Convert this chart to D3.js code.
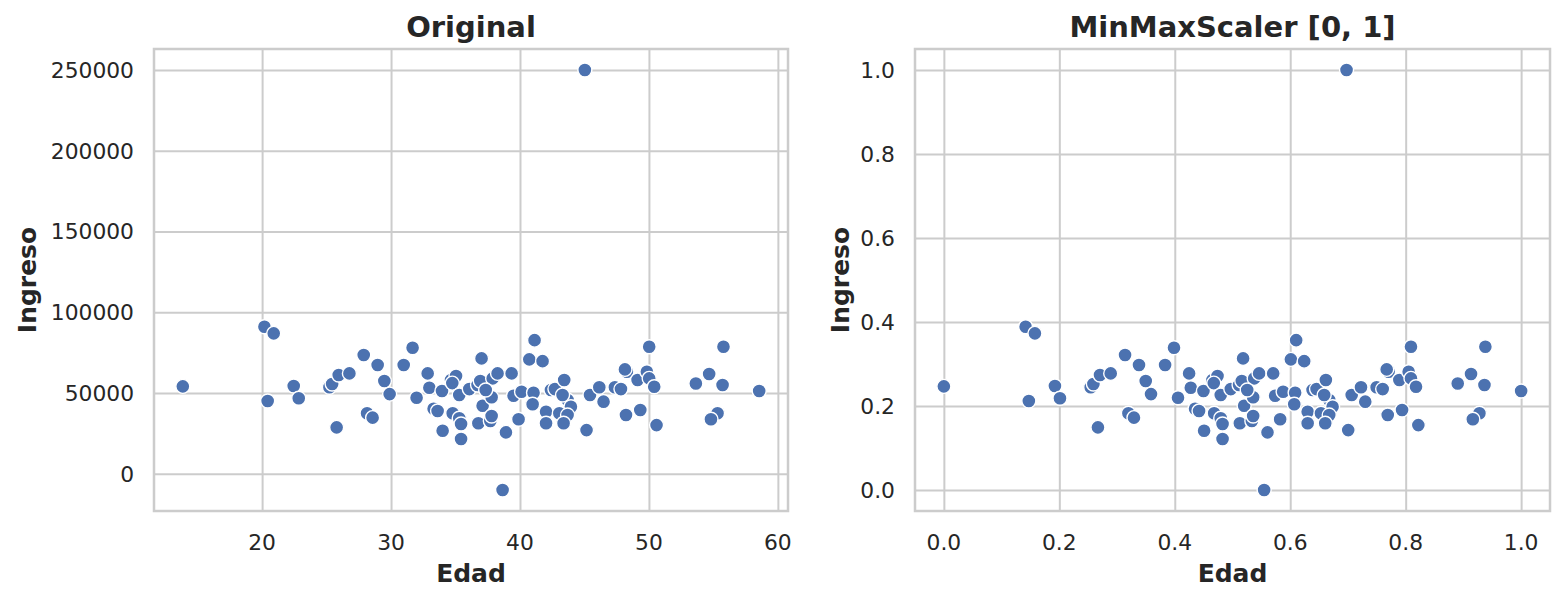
<!DOCTYPE html>
<html>
<head>
<meta charset="utf-8">
<script src="https://cdn.jsdelivr.net/npm/d3@7"></script>
<style>
  body { margin: 0; background: #fff; }
  text { font-family: "DejaVu Sans", sans-serif; fill: #262626; }
</style>
</head>
<body>
<div id="chart"></div>
<script>
const width = 1564;
const height = 601;

const edad = [13.85, 20.18, 20.90, 20.43, 22.45, 22.84, 25.78, 25.22, 25.43, 25.94,
  26.77, 27.88, 28.96, 29.48, 29.89, 28.14, 28.57, 30.98, 31.67, 32.84,
  32.97, 31.98, 33.30, 33.61, 34.00, 33.95, 34.65, 35.04, 34.75, 34.78,
  35.29, 35.43, 35.43, 35.29, 36.07, 36.71, 37.02, 36.92, 37.10, 36.77,
  37.70, 37.80, 37.80, 37.88, 38.26, 39.35, 38.91, 39.50, 40.12, 39.89,
  38.65, 41.13, 40.72, 41.75, 41.05, 40.98, 42.02, 42.02, 42.40, 42.71,
  43.43, 43.69, 43.95, 43.30, 43.05, 43.69, 43.38, 45.16, 45.43, 46.15,
  46.48, 47.36, 47.83, 48.22, 49.33, 48.29, 48.14, 49.12, 49.84, 50.02,
  50.02, 50.41, 50.59, 53.64, 54.67, 55.71, 55.78, 55.32, 54.81, 58.55,
  45.03, 37.34];

const ingreso = [54100, 91000, 86900, 45000, 54300, 46700, 28700, 53500, 55500, 61100,
  62100, 73500, 67300, 57400, 49300, 37400, 34700, 67300, 78000, 62100,
  53200, 47000, 40200, 38800, 26600, 51200, 58000, 60500, 56100, 37400,
  34300, 30800, 21500, 48700, 52400, 54900, 71400, 57400, 42100, 31200,
  32600, 35700, 47300, 59000, 62100, 62100, 25600, 48300, 50700, 33700,
  -10100, 82700, 70800, 69700, 50100, 43000, 38400, 31200, 51800, 52400,
  58000, 45600, 41500, 48700, 37400, 36300, 31200, 27000, 48700, 53500,
  44600, 53500, 52400, 36300, 39400, 63100, 64600, 58000, 63100, 78600,
  59000, 53800, 30100, 55900, 61700, 54900, 78600, 37400, 33700, 51200,
  250000, 51800];

const originalXTicks = [20, 30, 40, 50, 60];
const originalYTicks = [0, 50000, 100000, 150000, 200000, 250000];
const scaledTicks = [0, 0.2, 0.4, 0.6, 0.8, 1.0];

// MinMaxScaler: (v - min) / (max - min)
function minMax(values) {
  const [lo, hi] = d3.extent(values);
  return values.map(v => (v - lo) / (hi - lo));
}

const originalData = edad.map((e, i) => ({ x: e, y: ingreso[i] }));
const edadScaled = minMax(edad);
const ingresoScaled = minMax(ingreso);
const scaledData = edadScaled.map((e, i) => ({ x: e, y: ingresoScaled[i] }));

const svg = d3.select("#chart")
  .append("svg")
  .attr("width", width)
  .attr("height", height)
  .style("display", "block");

// matplotlib style 5% margins
function padded(values) {
  const [lo, hi] = d3.extent(values);
  const m = (hi - lo) * 0.05;
  return [lo - m, hi + m];
}

const plotTop = 49, plotBottom = 511;

function drawPanel(opts) {
  const x = d3.scaleLinear().domain(padded(opts.data.map(d => d.x))).range([opts.left, opts.right]);
  const y = d3.scaleLinear().domain(padded(opts.data.map(d => d.y))).range([plotBottom, plotTop]);
  const g = svg.append("g");

  // grid
  g.append("g")
    .attr("transform", `translate(0,${plotBottom})`)
    .call(d3.axisBottom(x).tickValues(opts.xTicks).tickSize(-(plotBottom - plotTop)).tickFormat(""))
    .call(a => a.select(".domain").remove())
    .selectAll("line").attr("stroke", "#cccccc").attr("stroke-width", 2);

  g.append("g")
    .attr("transform", `translate(${opts.left},0)`)
    .call(d3.axisLeft(y).tickValues(opts.yTicks).tickSize(-(opts.right - opts.left)).tickFormat(""))
    .call(a => a.select(".domain").remove())
    .selectAll("line").attr("stroke", "#cccccc").attr("stroke-width", 2);

  // points
  g.append("g")
    .selectAll("circle")
    .data(opts.data)
    .enter()
    .append("circle")
    .attr("cx", d => x(d.x))
    .attr("cy", d => y(d.y))
    .attr("r", 7)
    .attr("fill", "#4c72b0")
    .attr("stroke", "#ffffff")
    .attr("stroke-width", 1.4);

  // frame
  g.append("rect")
    .attr("x", opts.left)
    .attr("y", plotTop)
    .attr("width", opts.right - opts.left)
    .attr("height", plotBottom - plotTop)
    .attr("fill", "none")
    .attr("stroke", "#cccccc")
    .attr("stroke-width", 2.5);

  // tick labels
  g.selectAll("text.xt")
    .data(opts.xTicks)
    .enter()
    .append("text")
    .attr("class", "xt")
    .attr("x", d => x(d))
    .attr("y", 549.5)
    .attr("text-anchor", "middle")
    .style("font-size", "21.8px")
    .text(opts.xFormat);

  g.selectAll("text.yt")
    .data(opts.yTicks)
    .enter()
    .append("text")
    .attr("class", "yt")
    .attr("x", opts.left - 20)
    .attr("y", d => y(d) + 7.9)
    .attr("text-anchor", "end")
    .style("font-size", "21.8px")
    .text(opts.yFormat);

  // labels and title
  g.append("text")
    .attr("x", (opts.left + opts.right) / 2)
    .attr("y", 582)
    .attr("text-anchor", "middle")
    .style("font-size", "25px")
    .style("font-weight", "bold")
    .text("Edad");

  g.append("text")
    .attr("transform", `translate(${opts.ylabelX},${(plotTop + plotBottom) / 2}) rotate(-90)`)
    .attr("text-anchor", "middle")
    .style("font-size", "25px")
    .style("font-weight", "bold")
    .text("Ingreso");

  g.append("text")
    .attr("x", (opts.left + opts.right) / 2)
    .attr("y", 37)
    .attr("text-anchor", "middle")
    .style("font-size", "29px")
    .style("font-weight", "bold")
    .text(opts.title);
}

drawPanel({
  data: originalData,
  left: 154, right: 788,
  xTicks: originalXTicks, yTicks: originalYTicks,
  xFormat: d3.format("d"), yFormat: d3.format("d"),
  ylabelX: 36,
  title: "Original"
});

drawPanel({
  data: scaledData,
  left: 915, right: 1550,
  xTicks: scaledTicks, yTicks: scaledTicks,
  xFormat: d3.format(".1f"), yFormat: d3.format(".1f"),
  ylabelX: 849,
  title: "MinMaxScaler [0, 1]"
});
</script>
</body>
</html>
